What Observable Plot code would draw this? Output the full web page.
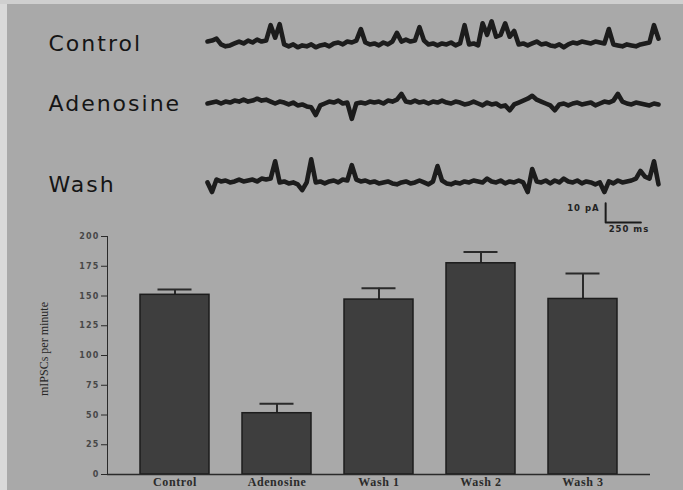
<!DOCTYPE html>
<html><head><meta charset="utf-8">
<script src="https://cdn.jsdelivr.net/npm/d3@7"></script>
<script src="https://cdn.jsdelivr.net/npm/@observablehq/plot@0.6"></script>
<style>
html,body{margin:0;padding:0;background:#a9a9a9;}
#fig{position:relative;width:683px;height:490px;background:#a9a9a9;overflow:hidden;}
.edgeL{position:absolute;left:0;top:0;width:7px;height:490px;background:#d9d9d9;}
.edgeT{position:absolute;left:0;top:0;width:683px;height:4px;background:#cfcfcf;}
.panel{position:absolute;left:0;}
.panel svg{display:block;overflow:visible;}
.trace text{letter-spacing:2px;}
.scalebar text{letter-spacing:1px;}
.bars g[aria-label^="y-axis"] text{font-family:"DejaVu Sans",sans-serif;font-weight:bold;font-size:8px;letter-spacing:1.2px;fill:#474747;}
.bars g[aria-label^="x-axis"] text{font-family:"Liberation Serif","Times New Roman",serif;font-weight:bold;font-size:12px;letter-spacing:0.6px;fill:#2b2b2b;}
#ylabel{position:absolute;left:44px;top:349px;transform:translate(-50%,-50%) rotate(-90deg);white-space:nowrap;font:12px "Liberation Serif","Times New Roman",serif;color:#262626;}
</style></head>
<body>
<div id="fig">
<div class="edgeL"></div><div class="edgeT"></div>
<div id="ylabel"></div>
</div>
<script>
// ---- bar chart data ----
const conditions = ["Control", "Adenosine", "Wash 1", "Wash 2", "Wash 3"];
const meanRate = [151, 51.5, 147, 177.5, 147.5];
const semRate = [4.5, 8, 9.5, 9.5, 21.5];
const yTicks = [0, 25, 50, 75, 100, 125, 150, 175, 200];
const yAxisLabel = "mIPSCs per minute";

// ---- example traces (pA, sampled every 32 ms) ----
const traceNames = ["Control", "Adenosine", "Wash"];
const traceStepMs = 32;
const controlPA = [0.5, 1, 2, -1, -2, -1.5, -0.5, 0.5, -0.5, 1,
  0, 1.5, 0.5, 1, 9, 2.5, 9.5, -1, -2, -1,
  -2.5, -1.5, -2, -1, -2.5, -1.5, -1, -2, -0.5, 0,
  -1, 0.5, 0, 1, 7, 0, -1, -0.5, -1.5, 0,
  -1, 0.5, 5, 0.5, 1.5, 0.5, 1, 8, 1, -1,
  -0.5, -1.5, -0.5, -1, 0, -1.5, -0.5, 9, -1, -0.5,
  -1.5, 10, 4, 11, 3, 4, 10, 3, 6, -1,
  -0.5, -1.5, -0.5, 0.5, -1, -0.5, -1.5, -2, -1, -2.5,
  -1, 0, -0.5, 0.5, 0, -0.5, 0.5, 0, -0.5, 7,
  -1, -1.5, -2, -1, -1.5, -2, -1, -0.5, 0, 9,
  2];
const adenosinePA = [0, 0.5, 1, 0, 1, 0.5, 1.5, 1, 2, 1,
  1.5, 2.5, 1.5, 2, 1, 0, 1, 0.5, -0.5, 0.5,
  -1, -0.5, -1.5, -2, -6, -1, 0, 1, 0.5, 1.5,
  0, 0.5, -8, 0, 0.5, 0, 1, 0.5, 1, 0,
  1.5, 1, 2, 5, 1, 0.5, 1.5, 0.5, 1, 0,
  1, 0.5, 1.5, 0.5, 0, 1, 0.5, -0.5, 0, 1,
  0, -1, 0.5, -0.5, 0, -1.5, -1, -3.5, -0.5, 0.5,
  1.5, 2.5, 4, 2, 1, 0, -1, -3.5, -0.5, 0,
  -1, 0, 0.5, -0.5, 0, 0.5, -1, 0, 1, 0.5,
  1.5, 5, 1, 0, -0.5, 0.5, 0, -0.5, -1, 0,
  -0.5];
const washPA = [-1, -6, 0.5, -0.5, 0, -1, -0.5, 0.5, -0.5, 0,
  0.5, -0.5, 1, 0.5, 1, 10, -1, -0.5, -1.5, -1,
  -2, -5, -1, 11, -1, -0.5, -1.5, -0.5, 0, -1,
  0.5, 0, 8, 0.5, -0.5, 0, -1, -0.5, -1.5, -1,
  -0.5, -1.5, -2, -1, -0.5, -1.5, -1, 0, -1, -2,
  -0.5, 7.5, 0, -1.5, -2, -1, -1.5, -0.5, -1, 0,
  -0.5, -1, 1, -0.5, -1, 0, -1.5, -0.5, -1, 0,
  -1, -6, 6, -0.5, -1, 0, -1.5, 0, -1, 1,
  -0.5, -1, 0, -1.5, -0.5, -1, -2, -1, -6, -0.5,
  -1.5, 0, -1, -0.5, 0, 1, 5, 2, 1, 10,
  -2];
const scaleBarPA = 10;
const scaleBarMs = 250;

const fig = document.getElementById("fig");
document.getElementById("ylabel").textContent = yAxisLabel;

function place(node, top, cls) {
  const d = document.createElement("div");
  d.className = "panel " + cls;
  d.style.top = top + "px";
  d.appendChild(node);
  fig.appendChild(d);
}

const durationMs = traceStepMs * (controlPA.length - 1);
const traceScales = {
  width: 683, height: 50, marginLeft: 207, marginRight: 25, marginTop: 0, marginBottom: 0,
  x: {domain: [0, durationMs], axis: null},
  y: {domain: [-13, 13], axis: null},
  style: {background: "transparent", overflow: "visible"}
};

function tracePlot(name, values, dy) {
  return Plot.plot({
    ...traceScales,
    marks: [
      Plot.line(values, {x: (d, i) => i * traceStepMs, y: d => d, stroke: "#1c1c1c", strokeWidth: 4.6, strokeLinejoin: "round"}),
      Plot.text([name], {text: d => d, frameAnchor: "left", dx: -159, dy, textAnchor: "start", lineAnchor: "middle",
        fontSize: 22, fontFamily: "DejaVu Sans, sans-serif", fill: "#151515"})
    ]
  });
}

const traceData = [controlPA, adenosinePA, washPA];
const traceTops = [17, 78, 155];
const traceDy = [1.5, 0.5, 4];
traceNames.forEach((n, k) => place(tracePlot(n, traceData[k], traceDy[k]), traceTops[k], "trace"));

// scale bar
const t0 = durationMs - 375;
const barPath = [
  {t: t0, v: scaleBarPA},
  {t: t0, v: 0},
  {t: t0 + scaleBarMs, v: 0}
];
place(Plot.plot({
  ...traceScales,
  marks: [
    Plot.line(barPath, {x: "t", y: "v", stroke: "#1b1b1b", strokeWidth: 2}),
    Plot.text([`${scaleBarPA} pA`], {x: t0, y: scaleBarPA * 0.75, dx: -6, text: d => d, textAnchor: "end",
      fontSize: 8.5, fontWeight: "bold", fontFamily: "DejaVu Sans, sans-serif", fill: "#222"}),
    Plot.text([`${scaleBarMs} ms`], {x: t0, y: 0, dx: 3, dy: 3, text: d => d, textAnchor: "start", lineAnchor: "top",
      fontSize: 8.5, fontWeight: "bold", fontFamily: "DejaVu Sans, sans-serif", fill: "#222"})
  ]
}), 197, "scalebar");

// bar chart
const rows = conditions.map((c, i) => ({c, m: meanRate[i], s: semRate[i]}));
place(Plot.plot({
  width: 683, height: 264, marginTop: 10, marginBottom: 16, marginLeft: 107, marginRight: 33,
  style: {background: "transparent", color: "#2a2a2a"},
  x: {domain: conditions, padding: 0.32, label: null, tickSize: 0, tickPadding: 3},
  y: {domain: [0, 200], ticks: yTicks, tickSize: 6, tickPadding: 2, line: true, label: null},
  marks: [
    Plot.ruleX(rows, {x: "c", y1: "m", y2: d => d.m + d.s, stroke: "#2a2a2a", strokeWidth: 2}),
    Plot.tickY(rows, {x: "c", y: d => d.m + d.s, insetLeft: 17.5, insetRight: 17.5, stroke: "#2a2a2a", strokeWidth: 2}),
    Plot.barY(rows, {x: "c", y: "m", fill: "#3e3e3e", stroke: "#1c1c1c", strokeWidth: 1.5}),
    Plot.ruleY([0], {stroke: "#2a2a2a", strokeWidth: 1.5})
  ]
}), 226, "bars");
</script>
</body></html>
